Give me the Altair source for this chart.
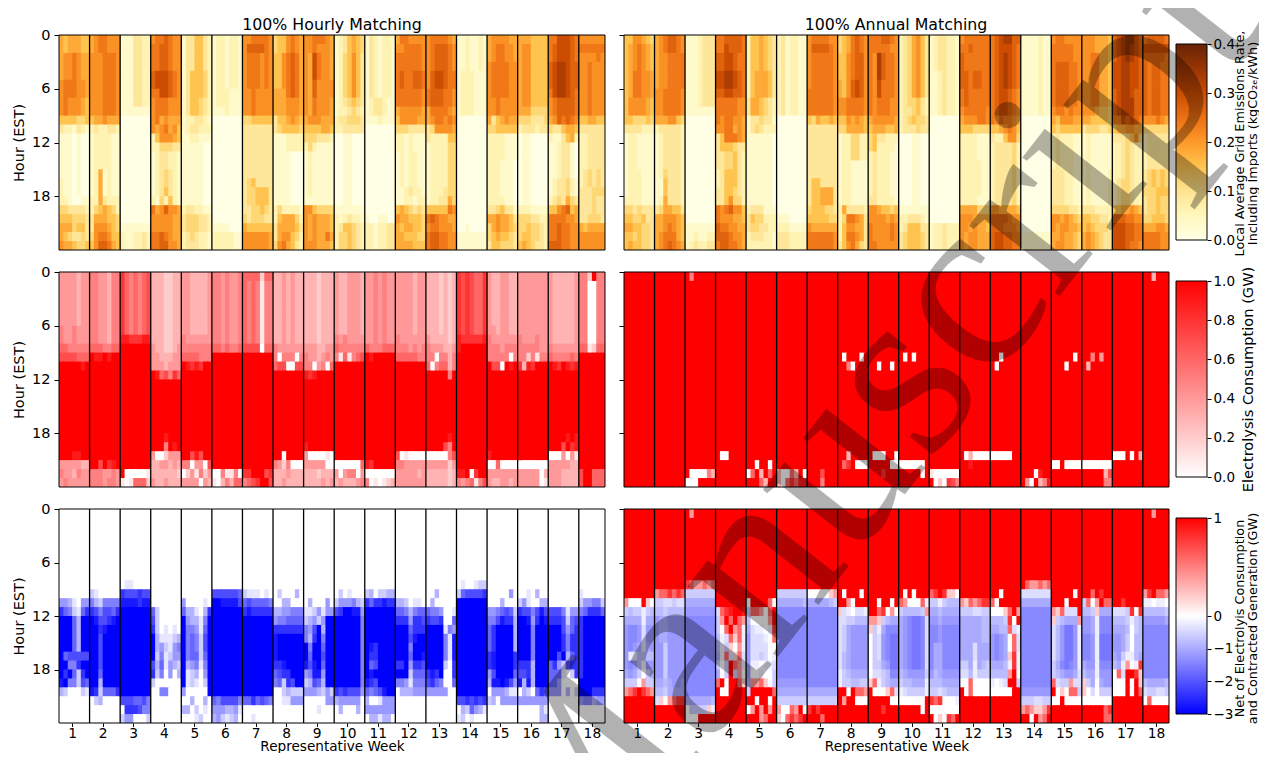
import altair as alt
import pandas as pd

# Cell levels per representative week: "rows=one char per day". Rows not named take the panel's default.
EMIS_LEVELS = dict(zip("0123456789abc", [0, .03, .06, .09, .12, .15, .18, .21, .24, .27, .30, .33, .36]))
LOAD_LEVELS = dict(zip("0123456789a", [0, .1, .2, .3, .4, .5, .6, .7, .8, .9, 1.0]))
BLUE_LEVELS = dict(zip("0123456789a", [0, -.3, -.6, -.9, -1.2, -1.5, -1.8, -2.1, -2.4, -2.7, -3.0]))
NET_LEVELS = dict(zip("0123456789abcdeR", [0, -.2, -.4, -.6, -.8, -1.0, -1.2, -1.4, -1.6, -1.8, .2, .4, .6, .8, .9, 1.0]))

hourly_emis = [
 "0-1=6566655 2-4=6778766 5-6=7888776 7-8=7877765 9=5555445 10=3221321 11-15=1110100 16-17=2110100 18=2210011 19=4433332 20=5554443 21=6664553 22=6543343 23=7665445",
 "0-1=6788777 2-8=7778887 9=5667666 10=2322332 11-14=1222211 15-17=1261211 18=2263222 19=2456542 20=3666554 21=3777654 22=4788755 23=5799865",
 "0-7=1113322 8=1111111 9-20=0000000 21=1111111 22-23=2112232",
 "0=7889877 1-3=8899877 4-5=9aaa987 6=88aa987 7-8=7888777 9=7867666 10=7678675 11=2577765 12=2244433 13-14=1233221 15-16=1234321 17=1235321 18=2142521 19=8679776 20-21=7777766 22=8898766 23=8899776",
 "0-3=1335532 4-6=1355542 7-8=1355432 9=1223321 10=1233222 11=1122111 12-18=1111100 19=2332211 20-21=3444332 22=2343221 23=2333221",
 "0-5=1221221 6-7=1222111 8=1112111 9-20=0000000 21=1111000 22-23=2222211",
 "0=7788887 1=7999987 2-5=7888787 6-8=7787777 9=4455555 10-15=3333333 16=3453333 17-18=3445553 19=3344543 20=4344433 21=6555555 22-23=7777776",
 "0-1=4557876 2-5=5578986 6=6668986 7-8=6667776 9=3556765 10=3455554 11-12=1112222 13-18=1111000 19=2422221 20=2566642 21=3666653 22=3677542 23=4786532",
 "0=7788876 1=7787776 2-4=76a8776 5-6=7697777 7-8=7687776 9=6777666 10=5555665 11=4443332 12=2421111 13-17=1211111 18=1111111 19=7754444 20-21=7676665 22=7676686 23=7776665",
 "0-1=1235654 2-6=1245753 7=1234543 8=1223432 9=2334443 10=2233333 11-18=0011000 19=1111111 20=2123221 21=2355432 22-23=2445432",
 "0-6=1321221 7-8=1233211 9=1112111 10-19=0000000 20=1001100 21-23=2212233",
 "0=6887777 1=7788887 2-3=8888887 4-5=8988998 6-7=8888887 8=6777776 9=5777766 10=4443333 11-12=2212111 13-16=1212211 17=1123221 18=1122122 19=5654343 20=7665554 21=6566554 22=6655544 23=6666555",
 "0=7888876 1-3=7899987 4-5=79aa988 6-7=8999887 8=6888876 9=6788787 10=3477776 11=3222255 12-16=1222244 17=1222344 18=1223364 19=5555587 20=8987766 21=7887776 22-23=8998877",
 "0-3=1121121 4-8=1222111 9-20=0000000 21=0010000 22-23=1111111",
 "0=6777766 1-2=6788776 3-6=7888877 7-8=7787777 9=6356766 10=4455555 11-13=2222111 14-17=2221110 18=2222110 19=3345331 20=6676653 21=4676654 22=4565543 23=3554443",
 "0=6665555 1-7=6775555 8=6664444 9=4443334 10=2333233 11-18=0110000 19=2221111 20=4443322 21=4454432 22=4554432 23=5654332",
 "0=88aaa98 1-2=89aaa98 3-5=9abba99 6=8abba98 7-8=7899998 9=6798987 10=4335665 11=2113562 12-15=1123310 16-17=1233421 18=2343643 19=5578956 20=8888776 21-22=8898877 23=9998877",
 "0=777777 1=888888 2=777787 3-8=778777 9=556655 10=333333 11-14=223333 15-16=234343 17=333444 18-19=333433 20=334443 21=656666 22-23=777777",
]

annual_emis = [
 "0=5577654 1-3=5678765 4-6=5688776 7-8=5777765 9=5544454 10=3333222 11-14=1221111 15-17=1222111 18=2222111 19=4434333 20=5544533 21=6655443 22=5545443 23=5655443",
 "0-1=6789987 2-5=6778888 6-8=7788887 9=6667754 10=2333332 11-14=1233332 15=1243332 16-17=1153332 18=1263332 19=3466553 20=6677765 21=6678765 22=6788865 23=6789876",
 "0-7=1112333 8=1111111 9-20=0000000 21=1111111 22=1121122 23=1232233",
 "0=8899998 1=88a9998 2-3=99aa988 4-5=aabba98 6=99aa998 7-8=8888877 9=8788776 10=7788676 11=3588876 12=3555433 13-14=3344532 15-16=2355532 17=3355432 18=3357442 19=8789775 20=8777665 21=9887766 22=9998776 23=8998876",
 "0-3=2556543 4-6=2566653 7-8=3665432 9=1334331 10=1343222 11-18=1111110 19=2333111 20=3544222 21=3443322 22=2333221 23=2222221",
 "0-8=2312211 9-19=0000000 20=1110000 21=2221111 22-23=3332222",
 "0=7888877 1=7999987 2-5=7888887 6-8=8888887 9=5465565 10-15=3333333 16=3553333 17-18=3556663 19=4555443 20=5555544 21=7666666 22-23=8888887",
 "0-1=4568987 2-4=5578997 5-6=6579a97 7-8=7788887 9=5576765 10=4466665 11-13=1224422 14-18=1221111 19=2633332 20=2488763 21=2577663 22=2588763 23=3578643",
 "0=8889987 1=8888877 2-4=87b9887 5-6=87a8887 7-8=8788877 9=6777776 10=5666556 11=4533222 12=4522221 13-17=2322211 18=3322221 19=7765545 20=7777676 21-22=8777787 23=8877777",
 "0-6=2346753 7=2344532 8=2334532 9=2345443 10=2333433 11-18=0001100 19=1111111 20=2233321 21=2355533 22-23=3455543",
 "0-3=1233221 4-8=1123221 9-20=0000000 21-23=1223222",
 "0=7888888 1=8898888 2-3=9888888 4-5=9989988 6-7=8988888 8=7888887 9=6777887 10=5554444 11-13=2222111 14-17=2222211 18=2222111 19=6666444 20=7776666 21=7767665 22-23=7677666",
 "0=89abb99 1=89aaa98 2-5=89aba98 6-8=89aa987 9=8798876 10=5567875 11=3225774 12-18=2333342 19=7766665 20=9999877 21=9998887 22-23=9aa9988",
 "0-8=1111211 9-21=0000000 22-23=1111111",
 "0=7887777 1-2=8888877 3-7=8999887 8=7887877 9=6577766 10=5455555 11-14=2322211 15-18=3332211 19=4444332 20=7767654 21=7677665 22=6676654 23=6776654",
 "0-1=7776665 2-7=7788665 8=7776554 9=6655554 10=3444334 11-14=1211111 15-18=1211112 19=3332222 20=5544332 21=5654443 22-23=6765433",
 "0=9abcca9 1-2=9abcba9 3-5=aabbaa9 6=9abba99 7-8=9abbb99 9=88a9a98 10=5667766 11=3334574 12-15=2234322 16-18=2344322 19=5566765 20=9998877 21-22=aaa9988 23=aaa9887",
 "0=899998 1=aaaaaa 2=999998 3-8=989988 9=777876 10=444444 11-14=233333 15-16=345454 17=444555 18-19=344544 20=445554 21=666776 22-23=888877",
]

hourly_load = [
 "0-5=4444344 6-7=5445444 8=6655555 9=7777666 10=aaaaa9a 11-19=aaaaaaa 20=aaa99aa 21=4444433 22=5443544 23=4544444",
 "0-7=5544355 8=6665566 9=a99a9aa 10-20=aaaaaaa 21=aa7a89a 22=5554454 23=5554554",
 "0-6=8656567 7=9988899 8-21=aaaaaaa 22=a000001 23=1016662",
 "0-7=3332233 8=4332234 9=4433344 10=4443444 11=a967586 12-17=aaaaaaa 18=aaa9aaa 19=aaa5a9a 20=4002444 21=3344343 22=3333332 23=4334333",
 "0-6=4433334 7=5444444 8=5555555 9=6666555 10=a9898aa 11-19=aaaaaaa 20=aa797aa 21=5504407 22=0241524 23=4444043",
 "0-7=5545445 8=6656556 9-21=aaaaaaa 22=0051150 23=1035366",
 "0=6666266 1-7=6565155 8=7777066 9-21=aaaaaaa 22=88aaa78 23=5678aa7",
 "0-7=3343433 8=5444444 9=5055505 10=6770077 11-19=aaaaaaa 20=aa0aaaa 21=5425000 22=3334333 23=3343333",
 "0-7=3332333 8=4443344 9=5443454 10=5504506 11=989aaaa 12-18=aaaaaaa 19=9aaaaaa 20=4000010 21=4444400 22=3332333 23=3333434",
 "0-6=4334443 7=5454444 8=6555555 9=5161567 10-20=aaaaaaa 21=0000006 22=4045504 23=3433345",
 "0-7=4454544 8=6555666 9=a9aaaaa 10-20=aaaaaaa 21=98aaaaa 22=0000000 23=5010123",
 "0-6=4444344 7=5444444 8=5554545 9=6666655 10-19=aaaaaaa 20=7010000 21=5544444 22=4444434 23=4444444",
 "0-6=3332323 7=4333323 8=5444334 9=5505535 10=6056635 11=aaaaa5a 12-17=aaaaaaa 18=aaaaa9a 19=aaaa75a 20=0000057 21=4444424 22-23=3333323",
 "0-6=8787668 7=9888889 8=9aaaaaa 9-21=aaaaaaa 22=99a08aa 23=5456157",
 "0-5=4334433 6=4434433 7=5444444 8=5554555 9=5555505 10=a770a9a 11-19=aaaaaaa 20=9aaaaaa 21=0060000 22=4444444 23=4334434",
 "0-6=4444444 7=5444544 8=5555544 9=5525155 10=8398aaa 11-20=aaaaaaa 21=0000000 22=4444403 23=4444401",
 "0-7=4333334 8=5444444 9=6555565 10=a98a989 11-17=aaaaaaa 18=aaaa9a9 19=aaa7a89 20=0004041 21=4444433 22-23=4443333",
 "0=552a55 1-7=550055 8=661266 9-21=aaaaaa 22-23=7aa666",
]

annual_load = [
 "", "",
 "0=a5aaaaa 22=a000053 23=000aaaa",
 "20=a00aaaa",
 "21=aa0aa0a 22=06a3a6a 23=aaa63aa",
 "22=30063a0 23=3068699",
 "22=aaa7aaa 23=aaa5aaa",
 "9=a0aaa0a 10=aa50aaa 20=aa3aaaa 21=a68a000",
 "10=aa0aa0a 20=a000aa0 21=aaaaa00 22=aaa8aaa",
 "9=a0a0aaa 21=000000a 22=aaaaa0a",
 "22=1000000 23=a020875",
 "20=a030000 21=aa9aaaa",
 "9=aa0aaaa 10=a0aaaaa 20=00000aa",
 "22=aaa09aa 23=a40a359",
 "9=aaaaa0a 10=aaa0aaa 21=00a0000",
 "9=aa5a4aa 10=a3aaaaa 21=0000000 22=aaaaa37 23=aaaaa55",
 "20=000a0a3",
 "0=aa3aaa",
]

hourly_net = [
 "10=4431044 11=8652168 12-15=aaa63aa 16=a677777 17=aa558aa 18=a8a628a 19=9a55276 20=3200021",
 "9=2100000 10=5325555 11=8757768 12=a97789a 13=aa89aaa 14-17=aa7aaaa 18=aa6aaaa 19=aa3aaaa 20=9826668 21=0230000",
 "8=0110000 9=8777877 10=9999899 11-20=aaaaaaa 21=7776675 22=0888755 23=2440002",
 "11=6200000 12=7200000 13=8201010 14=a311123 15=a342145 16=a251244 17=7361432 18=8250403 19=2000000 20=0055000",
 "10=4000010 11=6331038 12=a43315a 13=a55416a 14-15=a56527a 16=a56626a 17=a34515a 18=a12304a 19=a12102a 20=400000a 21=0030030 22=3302010 23=0001200",
 "9=7777776 10=aa99997 11-20=aaaaaaa 21=6577775 22=4443341 23=3421230",
 "9=2111010 10=6766665 11=8988888 12-20=aaaaaaa 21=6686765 23=0010000",
 "9=0200030 10=0033000 11=3344555 12=4556666 13=8888888 14-16=9aaaaaa 17=889aaaa 18=6788aaa 19=56287aa 20=0023222 21=0011444",
 "10=0300040 11=1124144 12=23424aa 13=547a3aa 14=538a5aa 15=a5aa6aa 16=a6aa7aa 17=979a6aa 18=45994aa 19=23763aa 20=4443242 21=0000044 22=0001000",
 "9=0201000 10=2444532 11=78aa994 12-19=aaaaaa5 20=8787774 21=3444440 22=0300030",
 "9=2302233 10=8688988 11-14=aaaaaaa 15=a98aaaa 16=a88aaaa 17=a67aaaa 18=a9aaaaa 19=987aaaa 20=65679aa 21=3001444 22=4444444 23=0331330",
 "10=3320110 11=6653566 12=8884887 13=aaa6888 14=aaa79aa 15=aaa5aaa 16=aaa6aa9 17=88a4887 18=aaa2666 19=5541555 20=0333444",
 "9=0030000 10=0300000 11=6554001 12=8778006 13=aaaa154 14-16=aaaa519 17=aaaa208 18=898a008 19=7865006 20=4444400",
 "8=0100122 9=2677778 10-20=aaaaaaa 21=7787878 22=0326431 23=1201000",
 "9=0000040 10=0003000 11=4456762 12=5579883 13-15=68aaaa3 16-17=89aaaa8 18=47aaaa6 19=399a974 20=0444311 21=2304444",
 "9=0010300 10=2410033 11=8775797 12=aa948a9 13-16=aaa5aaa 17=8883aaa 18=7783aaa 19=9393aaa 20=0320687 21=4444444 22=0000031 23=0000033",
 "11=7775144 12=8887267 13=aaa7468 14-15=aaa8588 16=aa7a368 17=6842788 18=6661028 19=6640000 20=4440302",
 "9=100000 10=244552 11=568886 12-18=8aaaaa 19=aaaaaa 20=aaa888 21=455344",
]

annual_net = [
 "10=b000Ra0 11=3433134 12=5555155 13-14=6776266 15=6765256 16=6124444 17=6764166 18=5653035 19=3330b33 20=bcdRdcb",
 "9=bccdcdc 10=3322322 11=4434444 12-14=6556666 15-18=6636666 19=5545665 20=4435555 21=2a0bcdd",
 "0=RbRRRRR 8=dcbbcbc 9=3333333 10=5555555 11=6666666 12-20=7777777 21=5555554 22=03333a1 23=000RRRR",
 "11=2cdeRRe 12=3bRcRcb 13=30cRbc1 14=412cac1 15=413a0b1 16=51c2ac2 17=303Rcb1 18=503R3b0 19=cR0RRca 20=R00RRRR",
 "10=0RRRRc0 11=3ccb0cR 12=40000bR 13=521101d 14=622210c 15=6222200 16=6223201 17=6110112 18=6001003 19=5bbca03 20=3RRRRRc 21=RR0RR0R 22=0bRbRbR 23=RRRbcRR",
 "9=3333333 10=5555554 11-18=7777777 19=6666666 20=5555555 21=3333333 22=b00cbR0 23=a0cdcdR",
 "9=00000ab 10=5555543 11-19=7777777 20=5555555 21=3333333 22=dRdRRRR 23=RRRcRRR",
 "9=R0RRR0R 10=RRb0RRR 11=a210221 12=2233444 13-15=2356666 16-17=2456666 18=1345555 19=1334433 20=RR0Rccb 21=RbRR000",
 "10=RR0RR0R 11=RRcd0b0 12=bba3455 13=a315777 14-16=0326788 17=0335688 18=0223477 19=ac13455 20=R000ac2 21=RRRRR00 22=RRRdRRR",
 "9=R0R0RRR 10=cb000c1 11=344443b 12-17=5678872 18=4566663 19=3445551 20=1233331 21=000000R 22=RRRRR0R",
 "9=cdRdaa0 10=3313444 11=5545555 12=6656666 13-14=7767777 15-17=7557777 18=6456666 19=4445555 20=3323444 21=dcd0001 22=0000000 23=R0a0dcR",
 "10=bacbcdd 11=3332233 12-14=5555544 15-16=5552555 17=3351543 18=2241333 19=00c0000 20=R0c0000",
 "9=RR0RRRR 10=c0RRRRR 11=000acRb 12=4443d0R 13=5544c21 14-15=67650c2 16=6765ad1 17=55541d1 18=4444bR0 19=1012RR3 20=00000RR",
 "8=Rcbbcbc 9=2222222 10=5555555 11-19=7777777 20=6666666 21=3332233 22=bcbaabd 23=RR0RbcR",
 "9=RRRRR0R 10=RRR0RRR 11=bac222R 12=a34555b 13-16=2468861 17=3578761 18=3456652 19=c233b22 20=R0a0cc3 21=00R0000",
 "9=RRcRdRR 10=3c0bRcc 11=443a555 12-13=6651777 14-16=7761888 17=5661777 18=4551666 19=a350566 20=a020333 21=0000000 22=RRRRRcd 23=RRRRRcc",
 "10=RRdRRRR 11=2223d0d 12=4443134 13=5554034 14-15=6653044 16=5631145 17=451b01d 18=0c2RRda 19=000R0Ra 20=000R0Rc",
 "0=RRbRRR 9=bdRccb 10=110110 11=444443 12=666665 13-18=777777 19=455554 20=233223 21=0c0000",
]

WEEK_TICKS = [3 + 7 * i for i in range(18)]
HOUR_TICKS = [0, 6, 12, 18]
BOUNDARIES = [7 * i for i in range(1, 18)]
FONT = "DejaVu Sans"


def decode(weeks, levels, default):
    out = []
    col0 = 0
    for w, text in enumerate(weeks):
        n = 6 if w == 17 else 7
        rows = {h: default * n for h in range(24)}
        for tok in text.split():
            span, chars = tok.split("=")
            lo, _, hi = span.partition("-")
            for h in range(int(lo), int(hi or lo) + 1):
                rows[h] = chars
        for h in range(24):
            for d in range(n):
                ch = rows[h][d] if d < len(rows[h]) else default
                c = col0 + d
                out.append({"c": c, "c2": min(c + 1.2, 125), "h": h, "h2": min(h + 1.1, 24), "v": levels[ch]})
        col0 += n
    return pd.DataFrame(out)


W, H = 1251, 745
XL, XR = [51, 597], [616, 1161]
ROWS = [[27, 242], [264, 479], [501, 715]]
BAR_L, BAR_R = 1168, 1199


def panel(df, xr, yr, color_scale, left, bottom):
    xs = alt.Scale(domain=[0, 125], range=xr, nice=False, zero=False)
    ys = alt.Scale(domain=[0, 24], range=yr, nice=False, zero=False)
    y_axis = alt.Axis(orient="left", offset=-xr[0], values=HOUR_TICKS, grid=False, domain=False,
                      labels=left, title="Hour (EST)" if left else None, tickColor="black",
                      tickSize=5, labelFontSize=14.5, titleFontSize=14.5, titleFontWeight="normal",
                      labelFont=FONT, titleFont=FONT, labelColor="black", titleColor="black",
                      labelPadding=4, titlePadding=5)
    x_axis = None
    if bottom:
        x_axis = alt.Axis(orient="bottom", offset=yr[1] - H, values=WEEK_TICKS, grid=False, domain=False,
                          labelExpr="(datum.value - 3) / 7 + 1", title="Representative Week",
                          tickColor="black", tickSize=3.5, labelFontSize=13.8, titleFontSize=13.6,
                          titleFontWeight="normal", labelFont=FONT, titleFont=FONT, labelColor="black",
                          titleColor="black", labelPadding=0, labelAngle=0, labelFlush=False,
                          titleBaseline="alphabetic", titleY=27.5)
    heat = alt.Chart(df).mark_rect(strokeWidth=0).encode(
        x=alt.X("c:Q", scale=xs, axis=x_axis),
        x2="c2:Q",
        y=alt.Y("h:Q", scale=ys, axis=y_axis),
        y2="h2:Q",
        color=alt.Color("v:Q", scale=color_scale, legend=None),
    )
    lines = alt.Chart(pd.DataFrame({"b": BOUNDARIES, "t": [0] * 17, "u": [24] * 17})).mark_rule(
        color="black", strokeWidth=1.3).encode(
        x=alt.X("b:Q", scale=xs, axis=None),
        y=alt.Y("t:Q", scale=ys, axis=None),
        y2="u:Q",
    )
    frame = alt.Chart(pd.DataFrame({"a": [0], "b": [125], "t": [0], "u": [24]})).mark_rect(
        filled=False, stroke="black", strokeWidth=1).encode(
        x=alt.X("a:Q", scale=xs, axis=None),
        x2="b:Q",
        y=alt.Y("t:Q", scale=ys, axis=None),
        y2="u:Q",
    )
    return [heat, lines, frame]


def colorbar(lo, hi, domain, rng, stops, ticks, title, fmt, tx, ty, tsize):
    ax = alt.Axis(orient="right", offset=BAR_R - W, values=ticks, grid=False, domain=False, format=fmt,
                  title=title, titleAngle=270, tickColor="black", tickSize=4, labelFontSize=13.5,
                  titleFontSize=tsize, titleFontWeight="normal", labelFont=FONT, titleFont=FONT,
                  labelColor="black", titleColor="black", labelPadding=2,
                  titleLineHeight=13, titleAlign="center", titleBaseline="top", titleX=tx, titleY=ty)
    grad = alt.Gradient(gradient="linear", x1=0, x2=0, y1=1, y2=0,
                        stops=[alt.GradientStop(offset=o, color=c) for o, c in stops])
    return alt.Chart(pd.DataFrame({"lo": [lo], "hi": [hi]})).mark_rect(
        fill=grad, stroke="black", strokeWidth=1).encode(
        x=alt.value(BAR_L), x2=alt.value(BAR_R),
        y=alt.Y("lo:Q", scale=alt.Scale(domain=domain, range=rng, nice=False, zero=False), axis=ax),
        y2="hi:Q",
    )


YLORBR = ["#ffffe5", "#fff7bc", "#fee391", "#fec44f", "#fe9929", "#ec7014", "#cc4c02", "#993404", "#662506"]
em_scale = alt.Scale(domain=[0, .05, .1, .15, .2, .25, .3, .35, .4], range=YLORBR, interpolate="rgb")
load_scale = alt.Scale(domain=[0, 1], range=["#ffffff", "#ff0000"], interpolate="rgb")
net_scale = alt.Scale(domain=[-3, 0, 1], range=["#0000ff", "#ffffff", "#ff0000"], interpolate="rgb")

layers = []
layers += panel(decode(hourly_emis, EMIS_LEVELS, "0"), XL, ROWS[0], em_scale, True, False)
layers += panel(decode(annual_emis, EMIS_LEVELS, "0"), XR, ROWS[0], em_scale, False, False)
layers += panel(decode(hourly_load, LOAD_LEVELS, "a"), XL, ROWS[1], load_scale, True, False)
layers += panel(decode(annual_load, LOAD_LEVELS, "a"), XR, ROWS[1], load_scale, False, False)
layers += panel(decode(hourly_net, BLUE_LEVELS, "0"), XL, ROWS[2], net_scale, True, True)
layers += panel(decode(annual_net, NET_LEVELS, "R"), XR, ROWS[2], net_scale, False, True)

layers.append(colorbar(0, .4, [0, .4], [232, 36],
                       [(i / 8, c) for i, c in enumerate(YLORBR)], [0, .1, .2, .3, .4],
                       ["Local Average Grid Emissions Rate,", "Including Imports (kgCO₂ₑ/kWh)"], ".1f", 26, 135, 12.8))
layers.append(colorbar(0, 1, [0, 1], [469, 273],
                       [(0, "#ffffff"), (1, "#ff0000")], [0, .2, .4, .6, .8, 1],
                       "Electrolysis Consumption (GW)", ".1f", 33, 371, 14.6))
layers.append(colorbar(-3, 1, [-3, 0, 1], [706, 608, 510],
                       [(0, "#0000ff"), (.5, "#ffffff"), (1, "#ff0000")], [-3, -2, -1, 0, 1],
                       ["Net of Electrolyis Consumption", "and Contracted Generation (GW)"], "d", 26, 610, 12.8))

for label, xc in [("100% Hourly Matching", 324), ("100% Annual Matching", 888)]:
    layers.append(alt.Chart(pd.DataFrame({"t": [label]})).mark_text(
        font=FONT, fontSize=15.8, color="black", align="center", baseline="alphabetic").encode(
        x=alt.value(xc), y=alt.value(22), text="t:N"))

layers.append(alt.Chart(pd.DataFrame({"t": ["Manuscript"]})).mark_text(
    font="Liberation Serif", fontSize=250, color="black", opacity=0.3, align="left",
    baseline="alphabetic", angle=308).encode(
    x=alt.value(561), y=alt.value(916), text="t:N"))

chart = alt.layer(*layers).resolve_scale(x="independent", y="independent", color="independent").resolve_axis(
    x="independent", y="independent").properties(
    width=W, height=H, padding=0, autosize=alt.AutoSizeParams(type="none")
).configure_view(stroke=None)

chart.save("out.html", embed_options={"renderer": "svg", "actions": False})
